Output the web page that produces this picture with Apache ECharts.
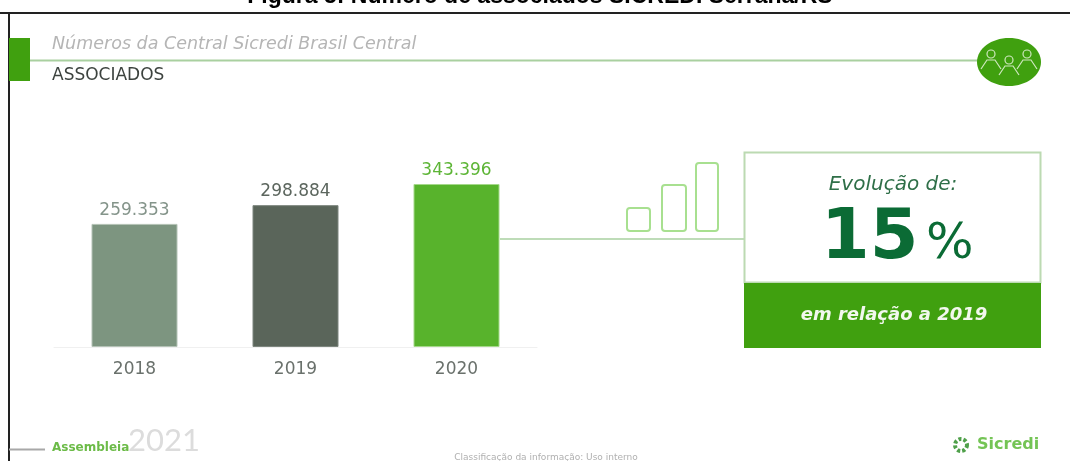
<!DOCTYPE html>
<html>
<head>
<meta charset="utf-8">
<style>html,body{margin:0;padding:0;background:#fff}#chart{width:1070px;height:461px}</style>
<script src="https://cdn.jsdelivr.net/npm/echarts@6/dist/echarts.min.js"></script>
</head>
<body>
<div id="chart"></div>
<script>
// Associados por ano
const years = ['2018', '2019', '2020'];
const members = [259353, 298884, 343396];
const memberLabels = ['259.353', '298.884', '343.396'];
const barColors = ['#7d9580', '#5a655a', '#58b32c'];
const barEdges = ['#b4c2b6', '#7d867e', '#a5d88a'];
const labelColors = ['#84948a', '#5c665e', '#5db536'];

const GREEN = '#40a00f';
const PALE = '#a9d0a0';
const ICON = '#a8e090';
const SANS = '"DejaVu Sans", sans-serif';

function label(x, y, text, size, fill, extra) {
  return { type: 'text', x, y, style: Object.assign({
    text, fontSize: size, fill, fontFamily: SANS, verticalAlign: 'middle'
  }, extra || {}) };
}
function rule(x1, y1, x2, y2, color, width) {
  return { type: 'line', shape: { x1, y1, x2, y2 }, style: { stroke: color, lineWidth: width } };
}
function box(x, y, width, height, style, r) {
  return { type: 'rect', shape: { x, y, width, height, r: r || 0 }, style };
}
function outlineBar(x, y, w, h) {
  return box(x, y, w, h, { fill: '#fff', stroke: ICON, lineWidth: 2 }, 3);
}
function person(cx, cy) {
  return [
    { type: 'circle', shape: { cx, cy: cy - 8, r: 4 }, style: { fill: 'none', stroke: '#cfe8bf', lineWidth: 1.2 } },
    { type: 'polyline', shape: { points: [[cx - 10, cy + 7], [cx - 4, cy - 2], [cx + 4, cy - 2], [cx + 10, cy + 7]] },
      style: { fill: 'none', stroke: '#cfe8bf', lineWidth: 1.2 } }
  ];
}

const decorations = [
  // frame and heading band
  rule(0, 13, 1070, 13, '#222', 2),
  rule(9, 12, 9, 461, '#222', 2),
  box(9, 38, 21, 43, { fill: GREEN }),
  rule(30, 60.5, 980, 60.5, PALE, 2),
  label(52, 44, 'Números da Central Sicredi Brasil Central', 17.5, '#b5b5b5', { fontStyle: 'italic' }),
  label(52, 76, 'ASSOCIADOS', 17, '#3c423e'),
  { type: 'ellipse', shape: { cx: 1009, cy: 62, rx: 32, ry: 24 }, style: { fill: GREEN } },
  ...person(991, 62), ...person(1027, 62), ...person(1009, 68),

  // connector and evolution card
  rule(500, 239, 744, 239, PALE, 1.5),
  outlineBar(627, 208, 23, 23),
  outlineBar(662, 185, 24, 46),
  outlineBar(696, 163, 22, 68),
  box(744.5, 152.5, 296, 130, { fill: '#fff', stroke: '#bcdab2', lineWidth: 2 }),
  box(744, 283, 297, 65, { fill: GREEN }),
  label(893, 185, 'Evolução de:', 20, '#2f6f48', { align: 'center', fontStyle: 'italic' }),
  label(821, 240, '15', 70, '#0b6b35', { fontWeight: 'bold' }),
  label(926, 245, '%', 50, '#0b6b35'),
  label(894, 315, 'em relação a 2019', 18, '#f2f8ee', { align: 'center', fontStyle: 'italic', fontWeight: 'bold' }),

  // footer
  rule(9, 449.5, 45, 449.5, '#a8a8a8', 2),
  label(52, 448, 'Assembleia', 12, '#6cbb48', { fontWeight: 'bold' }),
  label(128, 441, '2021', 31, '#dcdcdc', { fontFamily: 'Lato, sans-serif' }),
  label(546, 458, 'Classificação da informação: Uso interno', 9, '#b0b0b0', { align: 'center' }),
  label(977, 445, 'Sicredi', 16, '#74c455', { fontWeight: 'bold' }),
  { type: 'circle', shape: { cx: 961, cy: 445, r: 6 }, style: { fill: 'none', stroke: '#4fa04a', lineWidth: 4, lineDash: [3, 2] } },

  // page caption, cut by the top edge
  label(540, -3, 'Figura 5: Número de associados SICREDI Serrana/RS', 23, '#000', {
    fontFamily: '"Liberation Sans", sans-serif', fontWeight: 'bold', align: 'center' })
];

const chart = echarts.init(document.getElementById('chart'), null, { renderer: 'canvas' });
chart.setOption({
  animation: false,
  backgroundColor: '#fff',
  grid: { left: 54, width: 483, top: 184, height: 163, containLabel: false },
  xAxis: {
    type: 'category',
    data: years,
    axisLine: { lineStyle: { color: '#f0f0f0', width: 1 } },
    axisTick: { show: false },
    axisLabel: { color: '#6a716c', fontSize: 17, margin: 14, fontFamily: SANS }
  },
  yAxis: { type: 'value', min: 0, max: 343396, show: false, splitLine: { show: false } },
  series: [{
    type: 'bar',
    barWidth: 86,
    data: members.map((v, i) => ({
      value: v,
      itemStyle: { color: barColors[i], borderColor: barEdges[i], borderWidth: 1 },
      label: { color: labelColors[i], formatter: memberLabels[i] }
    })),
    label: { show: true, position: 'top', distance: 5, fontSize: 17, fontFamily: SANS }
  }],
  graphic: { elements: decorations }
});
</script>
</body>
</html>
